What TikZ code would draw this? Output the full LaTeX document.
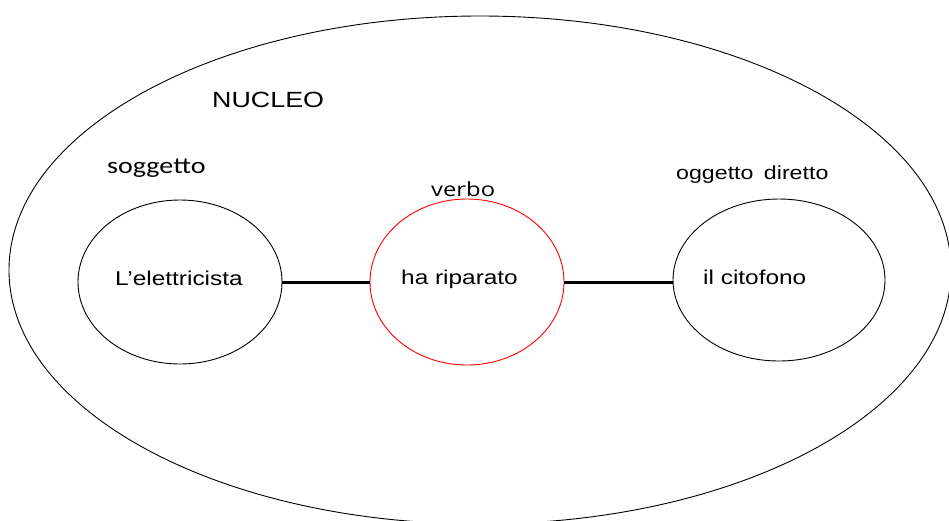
\documentclass[tikz,border=0pt]{standalone}
\usepackage{fontspec}
\setmainfont{Liberation Sans}[FakeStretch=1.22]
\newfontfamily\calfont{Carlito}[FakeStretch=1.22]
\newfontfamily\opfont{Open Sans}[FakeStretch=1.22]
\usetikzlibrary{shapes.geometric}

\begin{document}
\begin{tikzpicture}[x=1pt,y=-1pt,
        word/.style={anchor=base west,inner sep=0pt,font=\fontsize{20}{24}\selectfont},
        part/.style={draw,ellipse,line width=0.9pt,inner sep=0pt}]
        % size of the picture
        \clip (0,0) rectangle (949,520);

        % the big ellipse
        \draw[line width=0.9pt] (480,270) ellipse[x radius=471, y radius=254];
        \node[word,font=\fontsize{22}{26}\selectfont] (nucleo) at (212,107) {NUCLEO};

        % the three parts of the sentence
        \node[part,minimum width=204pt,minimum height=164pt] (sogg) at (180,282) {};
        \node[part,red,minimum width=194pt,minimum height=166pt] (verb) at (467,282) {};
        \node[part,minimum width=212pt,minimum height=162pt] (ogg) at (779,280) {};

        % lines between the parts
        \draw[line width=3pt] (sogg.east) -- (verb.west);
        \draw[line width=3pt] (verb.east) -- (ogg.west |- verb.east);

        % the words in the parts
        \node[word] (soggword) at (115,285) {L’elettricista};
        \node[word] (verbword) at (401,284) {ha riparato};
        \node[word] (oggword)  at (703,284) {il citofono};

        % the names of the parts
        \node[word,font=\calfont\fontsize{23}{27}\selectfont] (soggname) at (107,173) {soggetto};
        \node[word,font=\opfont\fontsize{19.5}{23}\selectfont] (verbname) at (431,196) {verbo};
        \node[word,font=\fontsize{19}{23}\selectfont] (oggname) at (676,179) {oggetto\hspace{4pt} diretto};
\end{tikzpicture}
\end{document}
